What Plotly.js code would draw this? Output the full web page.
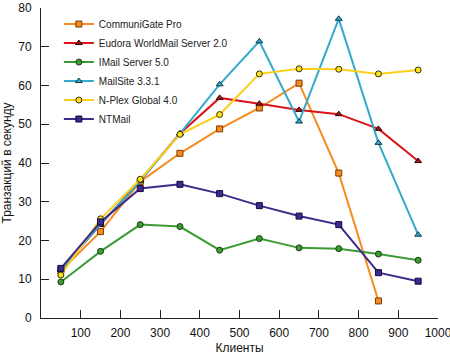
<!DOCTYPE html>
<html>
<head>
<meta charset="utf-8">
<script src="https://cdn.plot.ly/plotly-3.0.1.min.js"></script>
<style>html,body{margin:0;padding:0;background:#fff;}#chart{width:450px;height:355px;}</style>
</head>
<body>
<div id="chart"></div>
<script>
const clients = [50, 150, 250, 350, 450, 550, 650, 750, 850, 950];
const communigate = [12.2, 22.3, 35.2, 42.5, 48.8, 54.2, 60.6, 37.4, 4.4];
const eudora = [12.6, 24.0, 35.6, 47.6, 56.8, 55.3, 53.7, 52.6, 48.8, 40.5];
const imail = [9.3, 17.2, 24.1, 23.6, 17.5, 20.5, 18.1, 17.9, 16.5, 14.9];
const mailsite = [12.4, 24.2, 35.3, 47.6, 60.3, 71.4, 50.7, 77.2, 45.2, 21.5];
const nplex = [11.1, 25.6, 35.8, 47.4, 52.5, 63.0, 64.3, 64.2, 63.0, 64.0];
const ntmail = [12.8, 24.8, 33.4, 34.5, 32.1, 29.0, 26.3, 24.1, 11.7, 9.5];
const seriesNames = ['CommuniGate Pro', 'Eudora WorldMail Server 2.0', 'IMail Server 5.0', 'MailSite 3.3.1', 'N-Plex Global 4.0', 'NTMail'];
const xTicks = [100, 200, 300, 400, 500, 600, 700, 800, 900, 1000];
const yTicks = [0, 10, 20, 30, 40, 50, 60, 70, 80];

const FONT = '"Liberation Sans Narrow", "Arial Narrow", "Liberation Sans", Arial, sans-serif';
const styles = [
  {color: '#f68b1f', sym: 'square', fill: '#f68b1f', edge: '#7a3a00'},
  {color: '#d9141b', sym: 'triangle-up', fill: '#a0141b', edge: '#3a0000'},
  {color: '#3d9b35', sym: 'circle', fill: '#3d9b35', edge: '#14400f'},
  {color: '#35a9cc', sym: 'triangle-up', fill: '#35a9cc', edge: '#0d3a4a'},
  {color: '#fbcf1a', sym: 'circle', fill: '#fbe21a', edge: '#3a3000'},
  {color: '#3e2a8c', sym: 'square', fill: '#3e2a8c', edge: '#150a3a'}
];
const ys = [communigate, eudora, imail, mailsite, nplex, ntmail];
const traces = ys.map((y, i) => ({
  type: 'scatter', mode: 'lines+markers', name: seriesNames[i],
  x: clients.slice(0, y.length), y: y,
  line: {color: styles[i].color, width: 2},
  marker: {symbol: styles[i].sym, size: 6, color: styles[i].fill, line: {color: styles[i].edge, width: 1}}
}));

const layout = {
  width: 450, height: 355,
  margin: {l: 41, r: 12, t: 8, b: 37},
  paper_bgcolor: '#fff', plot_bgcolor: '#fff',
  font: {family: FONT, size: 12, color: '#111'},
  showlegend: true,
  legend: {x: 0.045, y: 0.995, xanchor: 'left', yanchor: 'top', bgcolor: 'rgba(0,0,0,0)',
           font: {family: FONT, size: 10, color: '#222'}, itemwidth: 30},
  xaxis: {range: [0, 1000], tickvals: xTicks, ticktext: xTicks.map(String), ticks: 'inside', ticklen: 8,
          tickcolor: '#222', showline: true, linecolor: '#222', linewidth: 1, showgrid: false, zeroline: false,
          ticklabelstandoff: 4, ticklabeloverflow: 'allow', tickfont: {family: FONT, size: 12},
          title: {text: 'Клиенты', font: {family: FONT, size: 12}, standoff: 4}},
  yaxis: {range: [0, 80], tickvals: yTicks, ticktext: yTicks.map(String), ticks: 'inside', ticklen: 8,
          tickcolor: '#222', showline: true, linecolor: '#222', linewidth: 1, showgrid: false, zeroline: false,
          ticklabelstandoff: 6, ticklabeloverflow: 'allow', tickfont: {family: FONT, size: 12},
          title: {text: 'Транзакций в секунду', font: {family: FONT, size: 12}, standoff: 4}}
};
Plotly.newPlot('chart', traces, layout, {displayModeBar: false, staticPlot: true});
</script>
</body>
</html>
